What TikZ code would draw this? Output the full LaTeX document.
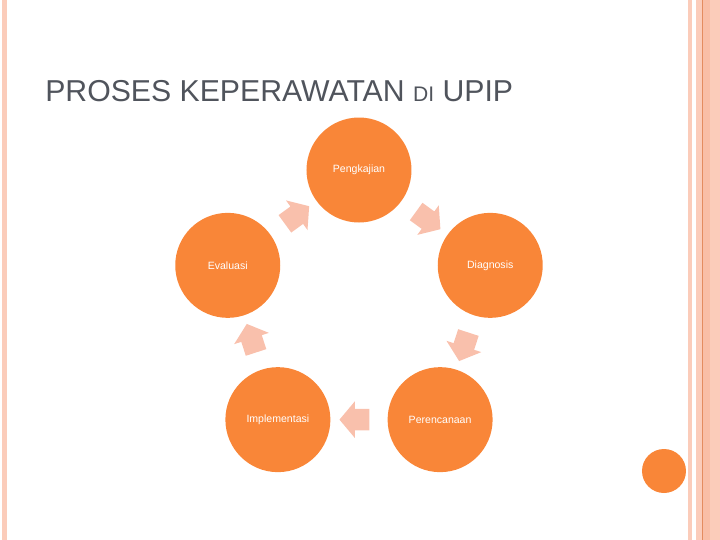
\documentclass[tikz,border=0pt]{standalone}
\usepackage{fontspec}
\setmainfont{Liberation Sans}
\usetikzlibrary{shapes.arrows,calc}
\definecolor{phaseor}{RGB}{249,134,56}
\definecolor{flowpk}{RGB}{249,192,172}
\definecolor{stripe}{RGB}{251,204,186}
\definecolor{stripedk}{RGB}{249,190,166}
\definecolor{stripeln}{RGB}{228,140,95}
\definecolor{titlegr}{RGB}{80,84,92}

\begin{document}
\begin{tikzpicture}[
  phase/.style={circle,fill=phaseor,inner sep=0pt,minimum size=2.625cm,
    text=white,font=\fontsize{7.5}{9}\selectfont},
  flow/.style={single arrow,fill=flowpk,inner xsep=0pt,inner ysep=0.2625cm,
    minimum height=0.75cm,single arrow head extend=0.1875cm,
    single arrow tip angle=100}]
  \useasboundingbox (-8.975,-5.8) rectangle (9.025,7.7);
  % slide border stripes
  \fill[stripe] (-8.92,-5.8) rectangle (-8.81,7.7);
  \fill[stripe] (8.225,-5.8) rectangle (8.325,7.7);
  \fill[stripe] (8.425,-5.8) rectangle (9.025,7.7);
  \fill[stripedk] (8.6,-5.8) rectangle (8.775,7.7);
  \draw[stripeln,line width=0.5pt] (8.59,-5.8) -- (8.59,7.7);
  \fill[phaseor] (7.625,-4.075) circle (0.55);
  \node[titlegr,anchor=base west,inner sep=0pt,font=\fontsize{21.5}{26}\selectfont] (title)
    at (-7.85,5.175) {PROSES KEPERAWATAN {\fontsize{15}{18}\selectfont DI} UPIP};
  % cycle
  \node[phase] (peng) at (90:3.45) {Pengkajian};
  \node[phase] (diag) at (18:3.45) {Diagnosis};
  \node[phase] (pere) at (-54:3.45) {Perencanaan};
  \node[phase] (impl) at (-126:3.45) {Implementasi};
  \node[phase] (eval) at (162:3.45) {Evaluasi};
  \node[flow,rotate=-36] (f1) at ($(peng)!0.5!(diag)$) {};
  \node[flow,rotate=-108] (f2) at ($(diag)!0.5!(pere)$) {};
  \node[flow,rotate=180] (f3) at ($(pere)!0.5!(impl)$) {};
  \node[flow,rotate=108] (f4) at ($(impl)!0.5!(eval)$) {};
  \node[flow,rotate=36] (f5) at ($(eval)!0.5!(peng)$) {};
\end{tikzpicture}
\end{document}
